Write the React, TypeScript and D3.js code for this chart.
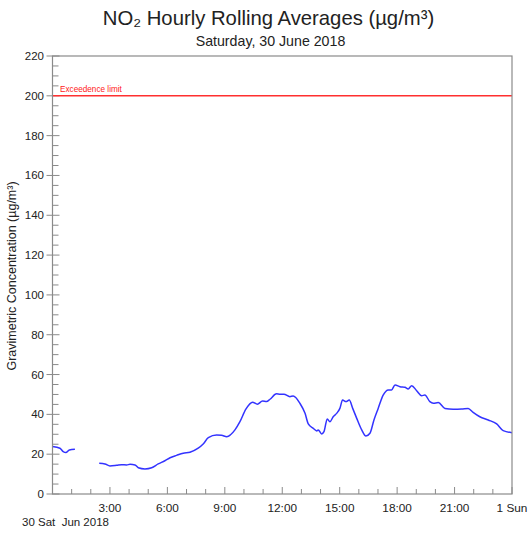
import React from 'react';
import * as d3 from 'd3';

// hours after midnight, 30 Jun 2018 (null value = gap in the record)
const readingHours = [
  0, 0.39, 0.56, 0.7, 0.88, 1.17, 1.8, 2.44, 2.74, 3.0,
  3.35, 3.61, 3.87, 4.05, 4.31, 4.48, 4.83, 5.18, 5.52, 5.87,
  6.14, 6.48, 6.83, 7.18, 7.61, 7.87, 8.14, 8.57, 8.83, 9.1,
  9.53, 9.79, 10.1, 10.45, 10.7, 10.97, 11.18, 11.36, 11.7, 11.88,
  12.09, 12.4, 12.57, 12.92, 13.19, 13.36, 13.62, 13.8, 13.88, 14.06,
  14.18, 14.35, 14.49, 14.66, 14.84, 15.01, 15.15, 15.33, 15.5, 15.68,
  15.89, 16.15, 16.37, 16.58, 16.79, 17.01, 17.27, 17.54, 17.71, 17.89,
  18.15, 18.41, 18.58, 18.76, 19.02, 19.28, 19.45, 19.71, 19.89, 20.15,
  20.5, 20.93, 21.37, 21.71, 21.97, 22.32, 22.76, 23.2, 23.54, 24,
];
const no2Values: (number | null)[] = [
  23.8, 23, 21.3, 20.8, 22.1, 22.5, null, 15.4, 15.1, 14.1,
  14.4, 14.7, 14.6, 14.9, 14.6, 13.2, 12.6, 13.2, 15.1, 16.7,
  18.2, 19.4, 20.5, 21, 23, 25.1, 28.3, 29.6, 29.5, 28.8,
  32.2, 36.3, 42.6, 46.1, 45.1, 46.7, 46.4, 47.6, 50.3, 50.1,
  50.1, 48.9, 49.2, 45.6, 40.5, 35.2, 33, 31.7, 32.2, 30.2,
  31.3, 37.7, 36.3, 38.8, 40.5, 43, 47.2, 46.4, 47.2, 43,
  38, 32.2, 29.1, 30.5, 37.2, 43, 49.7, 52.3, 52.3, 54.8,
  53.9, 53.6, 52.8, 54.4, 51.9, 49.4, 49.7, 46.4, 45.6, 45.9,
  43, 42.6, 42.7, 43, 41, 38.8, 37.2, 35.2, 31.8, 30.8,
];

const exceedenceLimit = 200;
const yMajorTicks = d3.range(0, 221, 20);
const yMinorTicks = d3.range(0, 221, 5).filter(v => v % 20 !== 0);
const xHourTicks = d3.range(0, 25, 1);
const xTickLabels: Record<number, string> = {
  3: '3:00', 6: '6:00', 9: '9:00', 12: '12:00', 15: '15:00',
  18: '18:00', 21: '21:00', 24: '1 Sun',
};

const W = 528;
const H = 533;
const margin = { top: 56, right: 16, bottom: 39, left: 52.5 };
const font = 'Liberation Sans, Arial, Helvetica, sans-serif';

export default function App() {
  const x = d3.scaleLinear().domain([0, 24]).range([margin.left, W - margin.right]);
  const y = d3.scaleLinear().domain([0, 220]).range([H - margin.bottom, margin.top]);

  const points = readingHours.map((h, i) => ({ h, v: no2Values[i] }));
  const line = d3.line<{ h: number; v: number | null }>()
    .defined(d => d.v != null)
    .x(d => x(d.h))
    .y(d => y(d.v as number))
    .curve(d3.curveMonotoneX);

  const x0 = x(0), x1 = x(24), yb = y(0), yt = y(220);
  const grey = '#8a8a8a';

  return (
    <svg width={W} height={H} style={{ position: 'absolute', left: 0, top: 0 }} fontFamily={font}>
      <rect width={W} height={H} fill="#fff" />
      <text x={268.5} y={25} textAnchor="middle" fontSize={20.3} fill="#222">
        NO₂ Hourly Rolling Averages (µg/m³)
      </text>
      <text x={270.5} y={46} textAnchor="middle" fontSize={14.2} fill="#222">
        Saturday, 30 June 2018
      </text>

      {/* y ticks */}
      {yMinorTicks.map(v => (
        <line key={'ym' + v} x1={x0} x2={x0 + 6} y1={y(v)} y2={y(v)} stroke={grey} />
      ))}
      {yMajorTicks.map(v => (
        <g key={'yM' + v}>
          <line x1={x0 - 6} x2={x0 + 7} y1={y(v)} y2={y(v)} stroke={grey} />
          <text x={x0 - 8.5} y={y(v) + 4} textAnchor="end" fontSize={11.5} fill="#222">{v}</text>
        </g>
      ))}

      {/* x ticks */}
      {xHourTicks.map(h => {
        const major = h % 3 === 0;
        return (
          <g key={'x' + h}>
            <line x1={x(h)} x2={x(h)} y1={yb} y2={yb - (major ? 7 : 5)} stroke={grey} />
            {xTickLabels[h] && (
              <text x={x(h)} y={yb + 18} textAnchor="middle" fontSize={11.8} fill="#222">
                {xTickLabels[h]}
              </text>
            )}
          </g>
        );
      })}
      <text x={22} y={526} fontSize={11.5} fill="#222" xmlSpace="preserve">30 Sat  Jun 2018</text>

      <text
        transform={`translate(16,${(yt + yb) / 2 + 1}) rotate(-90)`}
        textAnchor="middle"
        fontSize={12.5}
        fill="#222"
      >
        Gravimetric Concentration (µg/m³)
      </text>

      {/* exceedence limit */}
      <line x1={x0} x2={x1} y1={y(exceedenceLimit)} y2={y(exceedenceLimit)} stroke="#ff3030" strokeWidth={1.5} />
      <text x={x0 + 7.5} y={y(exceedenceLimit) - 4} fontSize={8.2} fill="#ff2020">Exceedence limit</text>

      <path d={line(points) ?? ''} fill="none" stroke="#3333ff" strokeWidth={1.5} strokeLinejoin="round" />

      {/* frame */}
      <rect x={x0} y={yt} width={x1 - x0} height={yb - yt} fill="none" stroke={grey} strokeWidth={1.2} />
    </svg>
  );
}
